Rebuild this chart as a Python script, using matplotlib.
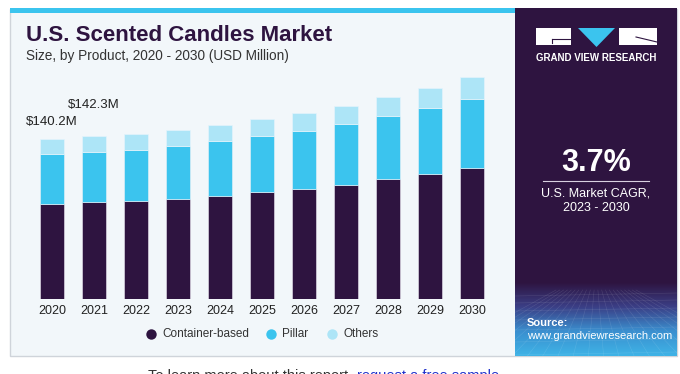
import numpy as np
import matplotlib
matplotlib.use("Agg")
import matplotlib.pyplot as plt
from matplotlib.patches import Rectangle, Polygon
from matplotlib.colors import LinearSegmentedColormap

plt.rcParams['font.family'] = ['Liberation Sans', 'DejaVu Sans']

years = ["2020", "2021", "2022", "2023", "2024", "2025", "2026", "2027", "2028", "2029", "2030"]
container = [83.3, 84.7, 85.6, 87.8, 90.2, 93.4, 96.6, 100.0, 105.0, 109.6, 114.9]
pillar = [43.8, 44.3, 45.0, 46.3, 47.8, 49.4, 50.4, 52.7, 55.3, 57.6, 60.2]
others = [13.1, 13.3, 13.3, 13.7, 14.0, 14.5, 15.4, 16.0, 16.3, 17.5, 18.9]
segments = ["Container-based", "Pillar", "Others"]
labels = {0: "$140.2M", 1: "$142.3M"}

DARK = "#2e1440"
BLUE = "#3bc4ee"
LIGHT = "#ade5f7"
BG = "#f2f7fa"

W, H = 680, 374
fig = plt.figure(figsize=(W / 100, H / 100), dpi=100)
fig.patch.set_facecolor("white")

# background layer in pixel coordinates
bg = fig.add_axes([0, 0, 1, 1])
bg.set_xlim(0, W)
bg.set_ylim(H, 0)
bg.axis("off")

bg.add_patch(Rectangle((10, 9), 667, 347, facecolor=BG, edgecolor="#cfd4da", lw=1))
bg.add_patch(Rectangle((10, 8), 505, 5, facecolor=BLUE, edgecolor="none"))
bg.add_patch(Rectangle((515, 8), 162, 348, facecolor=DARK, edgecolor="none"))

# gradient at bottom of the dark panel
cmap = LinearSegmentedColormap.from_list("g", [DARK, "#3b3f86", "#3a8fcf", "#3fb3e6"])
grad = np.linspace(0, 1, 100).reshape(-1, 1)
bg.imshow(grad, cmap=cmap, extent=(515, 677, 356, 282), aspect="auto", zorder=1)
# faint perspective grid
for k in np.linspace(-1, 1, 22):
    bg.plot([596 + k * 40, 596 + k * 160], [290, 356], color="white", lw=0.4, alpha=0.12, zorder=2)
for yy in [296, 303, 311, 320, 330, 342, 355]:
    bg.plot([515, 677], [yy, yy - 3], color="white", lw=0.4, alpha=0.12, zorder=2)

# logo
bg.add_patch(Rectangle((536, 28), 35, 17, facecolor="white", edgecolor="none", zorder=3))
bg.add_patch(Polygon([(578, 28), (615, 28), (596.5, 47)], facecolor=BLUE, edgecolor="none", zorder=3))
bg.add_patch(Rectangle((619, 28), 38, 17, facecolor="white", edgecolor="none", zorder=3))
bg.plot([552, 571], [39, 39], color=DARK, lw=0.8, zorder=4)
bg.plot([552, 552], [39, 43], color=DARK, lw=0.8, zorder=4)
bg.plot([636, 657], [37, 42], color=DARK, lw=0.8, zorder=4)
bg.text(596.5, 58, "GRAND VIEW RESEARCH", color="white", fontsize=7, fontweight="bold",
        ha="center", va="center", zorder=4)

bg.text(596, 163, "3.7%", color="white", fontsize=22, fontweight="bold", ha="center", va="center")
bg.plot([543, 649], [180.5, 180.5], color="#d8d0e0", lw=0.8)
bg.text(596, 193, "U.S. Market CAGR,", color="white", fontsize=9, ha="center", va="center")
bg.text(596, 208, "2023 - 2030", color="white", fontsize=9, ha="center", va="center")
bg.text(527, 323, "Source:", color="white", fontsize=8, fontweight="bold", ha="left", va="center", zorder=4)
bg.text(527, 336, "www.grandviewresearch.com", color="white", fontsize=8, ha="left", va="center", zorder=4)

bg.text(26, 35, "U.S. Scented Candles Market", color=DARK, fontsize=16, fontweight="bold",
        ha="left", va="center")
bg.text(26, 56, "Size, by Product, 2020 - 2030 (USD Million)", color="#333333", fontsize=9.8,
        ha="left", va="center")

# legend
for lx, col, name in zip([151, 271, 332], [DARK, BLUE, LIGHT], segments):
    bg.plot(lx, 334, "o", ms=7.5, color=col, mec="none")
    bg.text(lx + 11, 334, name, fontsize=8.5, color="#333333", ha="left", va="center")

# footer text, cut off at the bottom edge as in the original page
bg.text(148, 369, "To learn more about this report, ", fontsize=10.5, color="#333333", ha="left", va="top")
bg.text(357, 369, "request a free sample", fontsize=10.5, color="#2233cc", ha="left", va="top")

# bar chart axes: baseline at y=299.3 px, x centres 52 + 42*i
scale = 0.873
x_left, x_right, y_base, y_top = 20, 505, 299.3, 60
ax = fig.add_axes([x_left / W, (H - y_base) / H, (x_right - x_left) / W, (y_base - y_top) / H])
ax.set_facecolor("none")
ax.set_xlim((x_left - 52) / 42, (x_right - 52) / 42)
ax.set_ylim(0, (y_base - y_top) * scale)

x = np.arange(len(years))
c = np.array(container)
p = np.array(pillar)
o = np.array(others)
bw = 24 / 42
ax.bar(x, c, bw, color=DARK, edgecolor="#d9d4e0", lw=0.5)
ax.bar(x, p, bw, bottom=c, color=BLUE, edgecolor="#d9eef7", lw=0.5)
ax.bar(x, o, bw, bottom=c + p, color=LIGHT, edgecolor="#e4f4fb", lw=0.5)

for i, txt in labels.items():
    tot = c[i] + p[i] + o[i]
    ax.text(x[i], tot + (15 if i == 0 else 27), txt,
            fontsize=9.5, color="#222222", ha="center", va="center")

ax.set_xticks(x)
ax.set_xticklabels(years, fontsize=9, color="#222222")
ax.tick_params(axis="x", length=0, pad=4)
ax.set_yticks([])
for s in ax.spines.values():
    s.set_visible(False)

fig.savefig("out.png", dpi=100)
